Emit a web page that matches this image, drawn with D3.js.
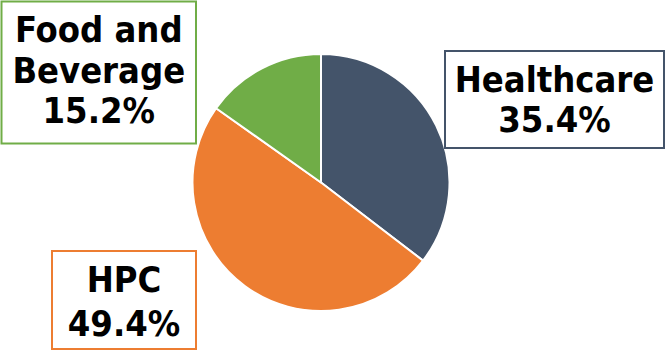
<!DOCTYPE html>
<html>
<head>
<meta charset="utf-8">
<script src="https://cdn.jsdelivr.net/npm/d3@7"></script>
<style>
  html, body { margin: 0; padding: 0; background: #fff; }
  svg { display: block; }
  .lbl { font-family: "DejaVu Sans Condensed", "DejaVu Sans", sans-serif; font-stretch: condensed; font-weight: bold; font-size: 36px; fill: #000; }
</style>
</head>
<body>
<svg id="chart" width="666" height="352"></svg>
<script>
// Segment data
const categories = ["Healthcare", "HPC", "Food and Beverage"];
const shares = [35.4, 49.4, 15.2];
const colors = ["#44546A", "#ED7D31", "#70AD47"];
// Label text broken into lines (the share is appended as the last line)
const labelLines = [["Healthcare"], ["HPC"], ["Food and", "Beverage"]];

// Label box placement: rectangle, first text baseline and line gap
const boxes = [
  { x: 445, y: 51, w: 219, h: 97, base: 92, gap: 40 },
  { x: 52, y: 251, w: 144, h: 98, base: 291.5, gap: 44 },
  { x: 1.5, y: 1.5, w: 194.5, h: 142, base: 42, gap: 40.5 }
];

const svg = d3.select("#chart");
const cx = 321, cy = 182.5, r = 128.5;

const pie = d3.pie().sort(null).value(d => d)(shares);
const arc = d3.arc().innerRadius(0).outerRadius(r);

svg.append("g")
  .attr("transform", `translate(${cx},${cy})`)
  .selectAll("path")
  .data(pie)
  .join("path")
  .attr("d", arc)
  .attr("fill", (d, i) => colors[i])
  .attr("stroke", "#fff")
  .attr("stroke-width", 2)
  .attr("stroke-linejoin", "round");

const groups = svg.append("g").selectAll("g")
  .data(categories)
  .join("g");

groups.append("rect")
  .attr("x", (d, i) => boxes[i].x)
  .attr("y", (d, i) => boxes[i].y)
  .attr("width", (d, i) => boxes[i].w)
  .attr("height", (d, i) => boxes[i].h)
  .attr("fill", "#fff")
  .attr("stroke", (d, i) => colors[i])
  .attr("stroke-width", 2);

groups.each(function(d, i) {
  const lines = labelLines[i].concat([shares[i].toFixed(1) + "%"]);
  const b = boxes[i];
  const t = d3.select(this).append("text")
    .attr("class", "lbl")
    .attr("text-anchor", "middle");
  lines.forEach((ln, k) => {
    t.append("tspan")
      .attr("x", b.x + b.w / 2)
      .attr("y", b.base + k * b.gap)
      .text(ln);
  });
});
</script>
</body>
</html>
